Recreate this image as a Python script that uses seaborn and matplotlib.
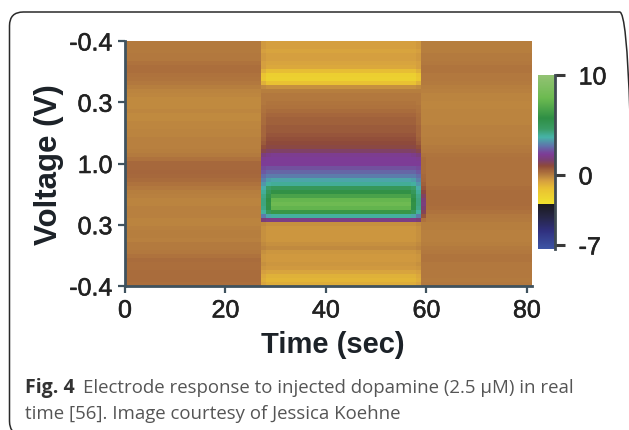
"""
Mapa de color de la respuesta del electrodo a dopamina inyectada.
Guarda la figura en 'out.png'.
"""

import numpy as np
import pandas as pd
import matplotlib
matplotlib.use("Agg")
import matplotlib.pyplot as plt
import matplotlib.patheffects as pe
from matplotlib.colors import LinearSegmentedColormap
from matplotlib.patches import FancyBboxPatch
import seaborn as sns

# Perfiles de corriente por fila (de arriba a abajo)
before = [0.05, 0.05, 0.05, 0.1, 0.1, 0.2, 0.25, 0.25, 0.2, 0.15, 0.1, 0.0,
          -0.1, -0.15, -0.2, -0.2, -0.2, -0.15, -0.2, -0.2, -0.15, -0.15, -0.1, -0.1,
          -0.05, -0.05, -0.05, 0.0, 0.05, 0.2, 0.35, 0.35, 0.4, 0.35, 0.3, 0.2,
          0.1, 0.0, -0.05, -0.1, -0.1, -0.05, -0.05, -0.05, -0.1, -0.1, -0.05, 0.0,
          0.0, -0.05, 0.05, 0.05, 0.1, 0.2, 0.3, 0.25, 0.25, 0.3, 0.3, 0.3, 0.25]
during = [-0.6, -0.6, -0.7, -0.6, -0.6, -0.7, -0.8, -1.3, -2.0, -2.1, -1.4, -0.3,
          0.0, 0.1, 0.1, 0.15, 0.2, 0.3, 0.4, 0.5, 0.5, 0.6, 0.6, 0.7,
          0.8, 0.9, 1.0, 1.4, 2.0, 2.1, 2.1, 2.4, 2.7, 3.0, 3.6, 4.0,
          5.0, 5.8, 6.6, 7.5, 7.8, 7.4, 6.0, 3.9, 1.8, -0.3, -0.4, -0.4,
          -0.4, -0.4, -0.3, -0.2, -0.4, -0.5, -0.5, -0.4, -0.5, -0.7, -1.0, -1.1, -0.9]
inner = [-0.6, -0.6, -0.7, -0.6, -0.6, -0.7, -0.8, -1.3, -2.0, -2.1, -1.4, -0.3,
         0.0, 0.1, 0.1, 0.15, 0.2, 0.3, 0.4, 0.5, 0.5, 0.6, 0.6, 0.7,
         0.8, 0.9, 1.0, 1.3, 1.9, 2.1, 2.1, 2.4, 2.7, 3.0, 3.5, 3.9,
         4.6, 5.0, 5.4, 5.7, 5.8, 5.6, 5.0, 3.6, 1.8, -0.3, -0.4, -0.4,
         -0.4, -0.4, -0.3, -0.2, -0.4, -0.5, -0.5, -0.4, -0.5, -0.7, -1.0, -1.1, -0.9]
edge = [-0.5, -0.5, -0.6, -0.5, -0.5, -0.6, -0.6, -1.0, -1.5, -1.6, -1.0, -0.2,
        0.0, 0.1, 0.1, 0.1, 0.15, 0.2, 0.25, 0.3, 0.3, 0.4, 0.4, 0.4,
        0.5, 0.6, 0.8, 1.1, 1.7, 2.0, 2.1, 2.3, 2.5, 2.8, 3.1, 3.4,
        3.7, 4.0, 4.2, 4.3, 4.3, 4.2, 3.9, 3.0, 1.6, -0.2, -0.3, -0.3,
        -0.3, -0.3, -0.2, -0.1, -0.3, -0.4, -0.4, -0.3, -0.4, -0.6, -0.8, -0.9, -0.7]
after = [0.0, 0.0, 0.0, 0.05, 0.05, 0.1, 0.15, 0.15, 0.1, 0.1, 0.05, 0.0,
         -0.05, -0.1, -0.1, -0.15, -0.15, -0.1, -0.1, -0.1, -0.1, -0.05, -0.05, -0.05,
         0.0, 0.0, 0.05, 0.1, 0.15, 0.2, 0.2, 0.2, 0.2, 0.2, 0.2, 0.2,
         0.25, 0.3, 0.3, 0.3, 0.3, 0.25, 0.2, 0.1, 0.05, 0.0, 0.0, -0.05,
         -0.05, -0.05, 0.0, 0.05, 0.1, 0.15, 0.15, 0.1, 0.1, 0.1, 0.1, 0.05, 0.1]
tail = [0.0, 0.0, 0.0, 0.05, 0.05, 0.1, 0.15, 0.15, 0.1, 0.1, 0.05, 0.0,
        -0.05, -0.1, -0.1, -0.15, -0.15, -0.1, -0.1, -0.1, -0.1, -0.05, -0.05, -0.05,
        0.0, 0.0, 0.05, 0.1, 0.2, 0.3, 0.3, 0.3, 0.3, 0.35, 0.4, 0.5,
        0.7, 1.0, 1.3, 1.6, 1.7, 1.5, 1.2, 0.7, 0.2, 0.0, 0.0, -0.05,
        -0.05, -0.05, 0.0, 0.05, 0.1, 0.15, 0.15, 0.1, 0.1, 0.1, 0.1, 0.05, 0.1]

# Segundos que dura cada perfil
profiles = [before, edge, inner, during, inner, edge, tail, after]
durations = [27, 1, 1, 28, 1, 1, 1, 21]

x_ticks = [0, 20, 40, 60, 80]
y_tick_labels = ["-0.4", "0.3", "1.0", "0.3", "-0.4"]
cbar_ticks = [-7, 0, 10]

# Escala de color: (valor, color)
cmap_stops = [(-7.4, "#3d55a5"), (-5.6, "#30307f"), (-4.2, "#262645"), (-2.95, "#1b1b20"),
              (-2.9, "#f0e22e"), (-1.4, "#e9c232"), (-0.6, "#d6a03f"), (-0.1, "#ba833f"),
              (0.3, "#a96c3c"), (0.9, "#8e4a3a"), (1.5, "#7b3f72"), (2.1, "#7d3c96"),
              (2.9, "#5f73ab"), (3.8, "#46b3a8"), (4.6, "#3a9c66"), (5.7, "#2f8f45"),
              (7.7, "#6cba50"), (10.0, "#93c274")]


def px_rect(fig, left, top, right, bottom):
    w, h = fig.get_size_inches() * fig.dpi
    return [left / w, 1 - bottom / h, (right - left) / w, (bottom - top) / h]


def main():
    sns.set_theme(style="white")
    plt.rcParams["font.family"] = ["Liberation Sans", "DejaVu Sans"]

    columns = np.repeat(np.arange(len(profiles)), durations)
    matrix = np.array(profiles).T[:, columns]
    data = pd.DataFrame(matrix)

    vmin, vmax = cmap_stops[0][0], cmap_stops[-1][0]
    cmap = LinearSegmentedColormap.from_list(
        "respuesta", [((v - vmin) / (vmax - vmin), c) for v, c in cmap_stops], N=512)

    fig = plt.figure(figsize=(6.29, 4.31), dpi=100, facecolor="white")

    # Marco redondeado que se sale por la derecha y por abajo
    w, h = fig.get_size_inches() * fig.dpi
    frame = FancyBboxPatch((9.5 / w, 1 - 436 / h), 624 / w, 423 / h,
                           boxstyle="round,pad=0,rounding_size=0.022",
                           mutation_aspect=w / h,
                           transform=fig.transFigure, fill=False,
                           edgecolor="#2a2a2a", linewidth=1.1, clip_on=False)
    fig.add_artist(frame)

    ax = fig.add_axes(px_rect(fig, 125, 42, 532, 287))
    cax = fig.add_axes(px_rect(fig, 538, 76, 555, 250))

    sns.heatmap(data, ax=ax, cbar_ax=cax, cmap=cmap, vmin=vmin, vmax=vmax,
                xticklabels=False, yticklabels=False, rasterized=True)

    stroke = [pe.withStroke(linewidth=0.4, foreground="#222222")]
    spine_color = "#3f525e"

    ax.set_xticks(x_ticks)
    ax.set_xticklabels(x_ticks, rotation=0, fontsize=18, color="#222222", path_effects=stroke)
    ax.set_yticks(np.linspace(0, data.shape[0], len(y_tick_labels)))
    ax.set_yticklabels(y_tick_labels, rotation=0, fontsize=18, color="#222222", path_effects=stroke)
    ax.tick_params(axis="x", length=5, width=1.6, color=spine_color, pad=4, bottom=True)
    ax.tick_params(axis="y", length=5, width=1.6, color=spine_color, pad=4, left=True)
    for side in ["left", "bottom"]:
        ax.spines[side].set_visible(True)
        ax.spines[side].set_color(spine_color)
        ax.spines[side].set_linewidth(2)

    ax.set_xlabel("Time (sec)", fontsize=21, fontweight="bold", color="#1c2228")
    ax.xaxis.set_label_coords(0.511, -0.178)
    ax.set_ylabel("Voltage (V)", fontsize=22.5, fontweight="bold", color="#1c2228")
    ax.yaxis.set_label_coords(-0.15, 0.5)

    cax.set_yticks(cbar_ticks)
    cax.set_yticklabels(cbar_ticks, fontsize=18, color="#222222", path_effects=stroke)
    cax.tick_params(axis="y", length=7, width=2.2, color="#3a3a3a", pad=10, right=True, left=False)
    cax.spines["right"].set_visible(True)
    cax.spines["right"].set_color("#3f4a52")
    cax.spines["right"].set_linewidth(2)

    # Pie de figura
    caption_font = ["Open Sans", "DejaVu Sans"]
    fig.text(25 / w, 1 - 393 / h, "Fig. 4", fontsize=14, fontweight="bold",
             family=caption_font, color="#333333")
    fig.text(83 / w, 1 - 393 / h, "Electrode response to injected dopamine (2.5 µM) in real",
             fontsize=13.4, family=caption_font, color="#555555")
    fig.text(25 / w, 1 - 419 / h, "time [56]. Image courtesy of Jessica Koehne",
             fontsize=13.4, family=caption_font, color="#555555")

    fig.savefig("out.png", dpi=100)
    plt.close(fig)


if __name__ == "__main__":
    main()
